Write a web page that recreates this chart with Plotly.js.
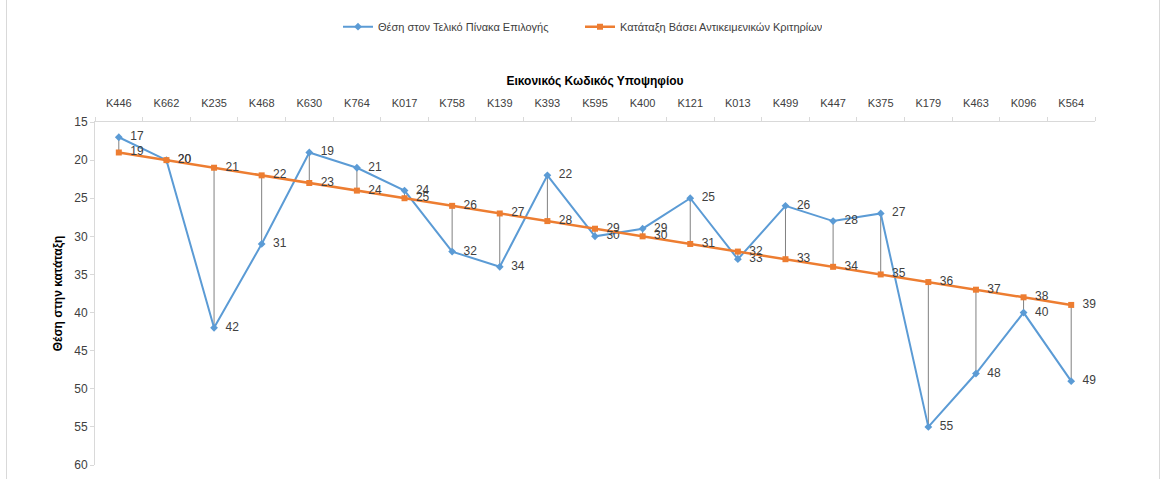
<!DOCTYPE html>
<html>
<head>
<meta charset="utf-8">
<script src="https://cdn.plot.ly/plotly-3.0.1.min.js"></script>
<style>
  html, body { margin: 0; padding: 0; background: #fff; }
  #wrap { position: relative; width: 1165px; height: 479px; }
  #chart { width: 1165px; height: 479px; }
  #frame { position: absolute; left: 6px; top: -2px; width: 1152px; height: 485px; border: 1px solid #d9d9d9; pointer-events: none; }
</style>
</head>
<body>
<div id="wrap">
  <div id="chart"></div>
  <div id="frame"></div>
</div>
<script>
const categories = ["K446","K662","K235","K468","K630","K764","K017","K758","K139","K393","K595","K400","K121","K013","K499","K447","K375","K179","K463","K096","K564"];
const finalPosition = [17,20,42,31,19,21,24,32,34,22,30,29,25,33,26,28,27,55,48,40,49];
const objectiveRank = [19,20,21,22,23,24,25,26,27,28,29,30,31,32,33,34,35,36,37,38,39];
const seriesNames = ["Θέση στον Τελικό Πίνακα Επιλογής", "Κατάταξη Βάσει Αντικειμενικών Κριτηρίων"];
const xTitle = "Εικονικός Κωδικός Υποψηφίου";
const yTitle = "Θέση στην κατάταξη";

const FONT = "'Liberation Sans', Arial, sans-serif";
const PAD = "\u00a0\u00a0";

// drop lines between the two series
const dropX = [], dropY = [];
categories.forEach((c, i) => {
  dropX.push(c, c, null);
  dropY.push(finalPosition[i], objectiveRank[i], null);
});

const traces = [
  {
    x: dropX, y: dropY, mode: 'lines', type: 'scatter',
    line: {color: '#808080', width: 1},
    showlegend: false, hoverinfo: 'skip', connectgaps: false
  },
  {
    x: categories, y: finalPosition, name: seriesNames[0],
    type: 'scatter', mode: 'lines+markers+text', cliponaxis: false,
    line: {color: '#5B9BD5', width: 2},
    marker: {symbol: 'diamond', size: 6, color: '#5B9BD5'},
    text: finalPosition.map(v => PAD + v), textposition: 'middle right',
    textfont: {family: FONT, size: 12, color: '#404040'}
  },
  {
    x: categories, y: objectiveRank, name: seriesNames[1],
    type: 'scatter', mode: 'lines+markers+text', cliponaxis: false,
    line: {color: '#ED7D31', width: 2.5},
    marker: {symbol: 'square', size: 6, color: '#ED7D31'},
    text: objectiveRank.map(v => PAD + v), textposition: 'middle right',
    textfont: {family: FONT, size: 12, color: '#404040'}
  }
];

const layout = {
  width: 1165, height: 479,
  margin: {l: 95, r: 70, t: 120, b: 14},
  paper_bgcolor: '#fff', plot_bgcolor: '#fff',
  font: {family: FONT, size: 12, color: '#404040'},
  showlegend: true,
  legend: {
    orientation: 'h', x: 0.243, xanchor: 'left', y: 1.278, yanchor: 'middle',
    entrywidth: 197, entrywidthmode: 'pixels',
    font: {family: FONT, size: 11, color: '#404040'},
    traceorder: 'normal'
  },
  xaxis: {
    type: 'category', side: 'top', range: [-0.5, 20.5],
    showline: true, linecolor: '#d9d9d9', linewidth: 1,
    ticks: 'outside', tickson: 'boundaries', ticklen: 4, tickcolor: '#d9d9d9',
    ticklabelstandoff: 10,
    showgrid: false, zeroline: false,
    tickfont: {family: FONT, size: 11, color: '#404040'},
    title: {text: '<b>' + xTitle + '</b>', standoff: 8, font: {family: FONT, size: 12, color: '#000'}}
  },
  yaxis: {
    range: [60, 15], dtick: 5, tick0: 15,
    showline: true, linecolor: '#d9d9d9', linewidth: 1,
    ticks: 'outside', ticklen: 4, tickcolor: '#d9d9d9',
    showgrid: false, zeroline: false,
    tickfont: {family: FONT, size: 12, color: '#404040'},
    title: {text: '<b>' + yTitle + '</b>', standoff: 9, font: {family: FONT, size: 12, color: '#000'}}
  }
};

Plotly.newPlot('chart', traces, layout, {displayModeBar: false, staticPlot: true});
</script>
</body>
</html>
